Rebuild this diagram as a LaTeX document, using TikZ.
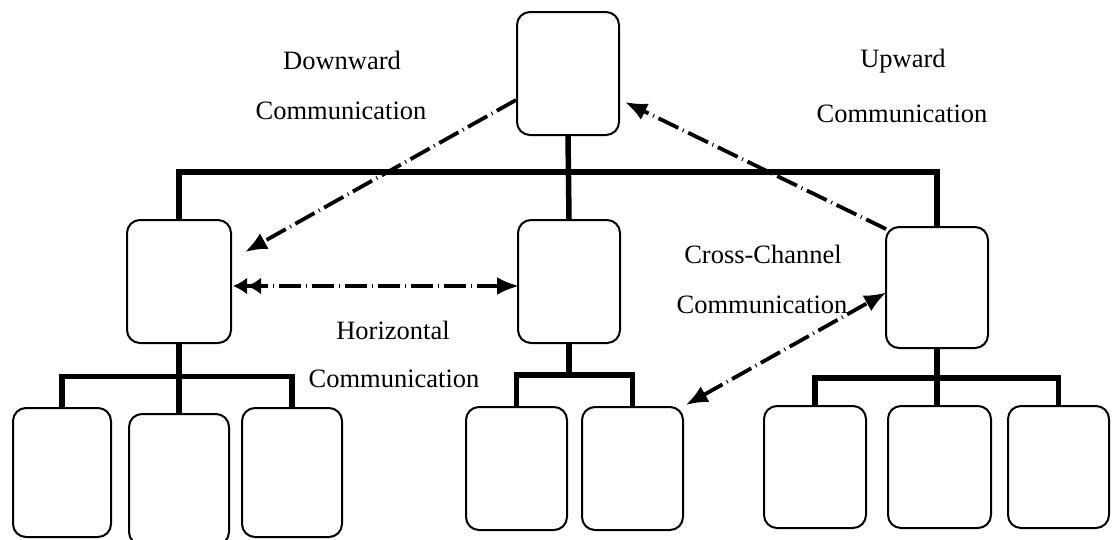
\documentclass[tikz,border=0pt]{standalone}
\usepackage{fontspec}
\setmainfont{Liberation Serif}
\usetikzlibrary{arrows.meta,calc}
\begin{document}
\begin{tikzpicture}[x=1pt,y=-1pt,
  box/.style={draw=black,line width=2pt,rounded corners=13pt,minimum width=#1,inner sep=0pt},
  bar/.style={line width=5.5pt},
  tip/.style={Latex[length=22pt,width=18pt]},
  comm/.style={line width=3.8pt,dash pattern=on 22pt off 5pt on 1pt off 5pt,
    arrows={-Latex[length=22pt,width=18pt]}},
  lbl/.style={font=\fontsize{26.5}{30}\selectfont,inner sep=0pt,anchor=base}]
\useasboundingbox (0,0) rectangle (1113,539);
% middle level boxes
\node[box=102pt,minimum height=123pt] (top) at (568,73.5) {};
\node[box=104pt,minimum height=123pt] (L) at (179,281.5) {};
\node[box=102pt,minimum height=123pt] (M) at (569,281.5) {};
\node[box=102pt,minimum height=121pt] (R) at (937,287.5) {};
% bottom boxes
\node[box=98pt,minimum height=129pt] (b1) at (62,472.5) {};
\node[box=100pt,minimum height=131pt] (b2) at (179,479.5) {};
\node[box=100pt,minimum height=129pt] (b3) at (292,472.5) {};
\node[box=101pt,minimum height=123pt] (mb1) at (516.5,468.5) {};
\node[box=101pt,minimum height=123pt] (mb2) at (632.5,468.5) {};
\node[box=102pt,minimum height=122pt] (rb1) at (815,467) {};
\node[box=103pt,minimum height=122pt] (rb2) at (939.5,467) {};
\node[box=101pt,minimum height=122pt] (rb3) at (1058.5,467) {};
% tree bars
\coordinate (tbar) at (569,172);
\coordinate (lbar) at (179,376.5);
\coordinate (mbar) at (574.5,375);
\coordinate (rbar) at (938,378);
\draw[bar] (L.north) |- (tbar) -| (R.north);
\draw[bar] (top.south) -- (M.north);
\draw[bar] (b1.north) |- (lbar) -| (b3.north);
\draw[bar] (L.south) -- (b2.north);
\draw[bar] (mb1.north) |- (mbar) -| (mb2.north);
\draw[bar] (M.south) -- (M.south |- mbar);
\draw[bar] (rb1.north) |- (rbar) -| (rb3.north);
\draw[bar] (R.south) -- (R.south |- rb2.north);
% communication arrows
\coordinate (dtip) at (245,252);
\coordinate (utip) at (625,102);
\coordinate (hl) at (233,286);
\coordinate (hr) at (519,286);
\draw[comm] (top.west |- 0,100) -- (dtip);
\draw[comm] ($(R.north west)+(1,3)$) -- (utip);
\draw[comm,arrows={{Latex[length=14pt,width=17pt]Latex[length=14pt,width=17pt]}-{Latex[length=22pt,width=18pt]}}] (hl) -- (hr);
\draw[comm,arrows={{Latex[length=22pt,width=18pt]}-{Latex[length=22pt,width=18pt]}},shorten <=2pt,shorten >=2pt] (mb2.north east) -- ($(R.west)+(3,4)$);
% labels
\node[lbl] (dw1) at (342,69) {Downward};
\node[lbl] (dw2) at (341,119) {Communication};
\node[lbl] (up1) at (903,67) {Upward};
\node[lbl] (up2) at (902,122) {Communication};
\node[lbl] (cc1) at (763,263) {Cross-Channel};
\node[lbl] (cc2) at (762,313) {Communication};
\node[lbl] (hz1) at (393,339) {Horizontal};
\node[lbl] (hz2) at (394,387) {Communication};
\end{tikzpicture}
\end{document}
